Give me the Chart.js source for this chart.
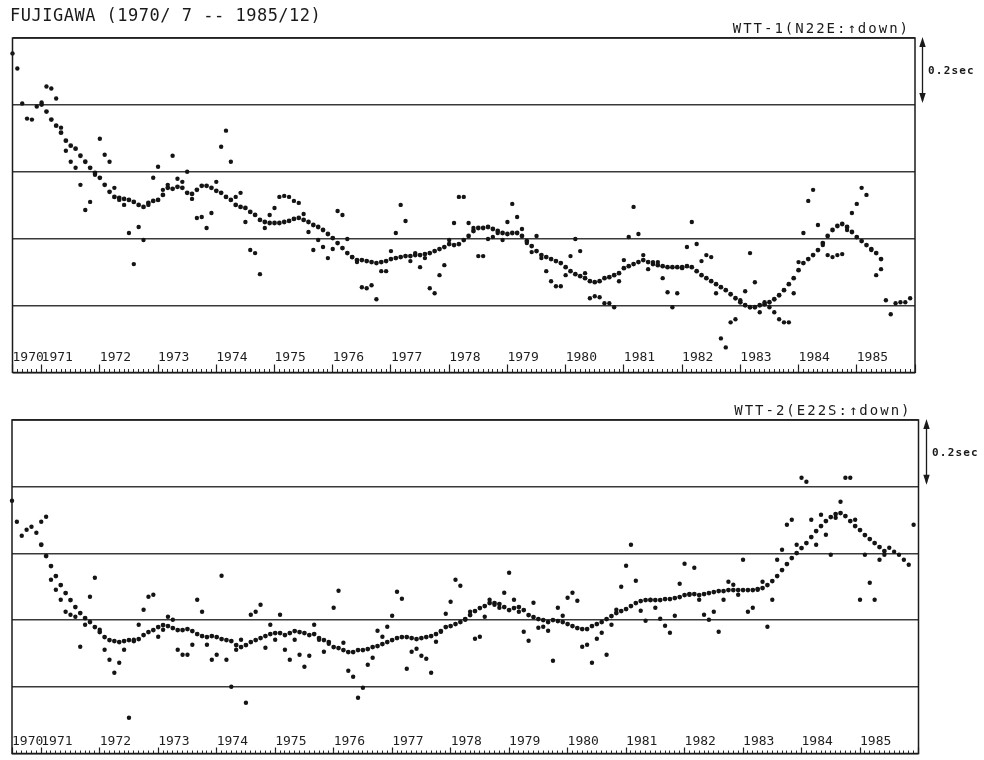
<!DOCTYPE html>
<html>
<head>
<meta charset="utf-8">
<script src="https://cdn.jsdelivr.net/npm/chart.js@4.4.0/dist/chart.umd.min.js"></script>
<style>
  html, body { margin: 0; padding: 0; background: #fff; }
  #wrap { position: relative; width: 984px; height: 760px; overflow: hidden; background: #fff; }
  canvas { position: absolute; left: 0; }
  #c1 { top: 0; }
  #c2 { top: 380px; }
</style>
</head>
<body>
<div id="wrap">
  <canvas id="c1" width="984" height="380"></canvas>
  <canvas id="c2" width="984" height="380"></canvas>
</div>
<script>
// Fujigawa travel-time residuals, monthly, 1970/7 .. 1985/12 (values in ms, 200 ms per division)
const titleText = 'FUJIGAWA (1970/ 7 -- 1985/12)';
const yearLabels = ['1970','1971','1972','1973','1974','1975','1976','1977','1978','1979','1980','1981','1982','1983','1984','1985',''];
const yearTicks = [1970.5,1971,1972,1973,1974,1975,1976,1977,1978,1979,1980,1981,1982,1983,1984,1985,1986];
const firstMonth = 1970.5;     // 1970/7
const smoothLag = 6;           // running mean starts at 1971/1

// WTT-1 (N22E) monthly values
const wtt1Monthly = [
  954, 909, 804, 759, 756, 795,
  807, 855, 849, 819, 732, 663, 630, 612, 561, 486, 510, 591,
  699, 651, 630, 552, 516, 501, 417, 324, 435, 396, 501, 582,
  615, 546, 561, 648, 579, 570, 600, 519, 462, 465, 432, 477,
  570, 675, 723, 630, 525, 537, 450, 366, 357, 294, 432, 471,
  492, 525, 528, 525, 513, 507, 474, 420, 366, 396, 375, 342,
  369, 483, 471, 399, 345, 330, 255, 252, 261, 219, 303, 303,
  363, 417, 501, 453, 333, 357, 315, 342, 252, 237, 291, 321,
  396, 447, 525, 525, 447, 432, 348, 348, 399, 405, 417, 396,
  450, 504, 465, 429, 387, 360, 408, 342, 303, 273, 258, 258,
  291, 348, 399, 363, 297, 222, 228, 225, 207, 207, 195, 273,
  336, 405, 495, 414, 351, 309, 330, 330, 282, 240, 195, 237,
  312, 375, 450, 384, 333, 351, 345, 237, 102, 75, 150, 159,
  216, 243, 357, 270, 180, 210, 195, 180, 159, 150, 150, 237,
  330, 417, 513, 546, 441, 381, 351, 345, 351, 354, 426, 477,
  504, 552, 531, 366, 291, 309, 216, 174, 207, 210, 210, 222
];
// WTT-1 12-month running mean, 1971/1 .. 1985/6
const wtt1Smooth = [
  801, 780, 756, 738, 717, 693, 678, 669, 648, 630, 612, 597,
  582, 561, 540, 525, 522, 519, 516, 510, 501, 495, 507, 513,
  516, 531, 552, 549, 555, 552, 537, 534, 546, 558, 558, 552,
  543, 537, 525, 516, 501, 495, 492, 480, 471, 456, 450, 447,
  447, 447, 450, 453, 459, 462, 456, 450, 441, 435, 426, 414,
  402, 387, 372, 357, 345, 336, 336, 333, 330, 327, 330, 333,
  339, 342, 345, 348, 348, 351, 351, 354, 357, 363, 369, 375,
  384, 381, 384, 396, 408, 423, 432, 432, 435, 429, 423, 417,
  414, 417, 417, 408, 393, 378, 363, 351, 345, 339, 333, 327,
  315, 303, 294, 288, 282, 273, 270, 273, 282, 285, 291, 297,
  312, 318, 324, 330, 336, 330, 324, 321, 318, 315, 315, 315,
  315, 318, 315, 303, 291, 282, 273, 264, 255, 246, 234, 222,
  210, 201, 195, 195, 201, 204, 210, 219, 231, 246, 264, 282,
  306, 327, 339, 351, 366, 387, 408, 426, 438, 444, 435, 420,
  405, 393, 381, 369, 357, 339
];

// WTT-2 (E22S) monthly values
const wtt2Monthly = [
  758, 695, 653, 671, 680, 662,
  695, 710, 521, 491, 461, 425, 416, 410, 320, 386, 470, 527,
  371, 311, 281, 242, 272, 311, 107, 341, 386, 431, 470, 476,
  350, 371, 410, 401, 311, 296, 296, 326, 461, 425, 326, 281,
  296, 533, 281, 200, 311, 341, 152, 416, 425, 446, 317, 386,
  341, 416, 311, 281, 341, 296, 260, 293, 386, 341, 305, 329,
  437, 488, 332, 248, 230, 167, 197, 266, 287, 368, 350, 380,
  413, 485, 464, 254, 305, 314, 293, 284, 242, 335, 365, 419,
  455, 521, 503, 401, 425, 344, 350, 410, 461, 446, 437, 482,
  542, 461, 425, 365, 338, 452, 377, 380, 368, 278, 437, 413,
  467, 482, 458, 320, 326, 272, 344, 362, 296, 386, 431, 500,
  563, 626, 518, 428, 398, 461, 437, 404, 383, 362, 413, 509,
  569, 476, 557, 461, 416, 401, 425, 365, 461, 515, 506, 476,
  581, 425, 437, 491, 515, 380, 461, 581, 611, 686, 701, 626,
  827, 815, 701, 626, 716, 656, 596, 707, 755, 827, 827, 701,
  461, 596, 512, 461, 581, 596, 617, 605, 596, 581, 566, 686
];
// WTT-2 12-month running mean, 1971/1 .. 1985/6
const wtt2Smooth = [
  626, 592, 562, 532, 505, 481, 460, 439, 421, 406, 394, 379,
  364, 349, 340, 337, 334, 337, 340, 337, 343, 355, 364, 370,
  379, 385, 382, 376, 370, 370, 373, 367, 358, 352, 349, 352,
  349, 343, 340, 337, 325, 319, 325, 334, 340, 346, 352, 358,
  361, 361, 355, 361, 367, 364, 361, 355, 358, 346, 340, 334,
  319, 316, 310, 304, 304, 310, 310, 313, 319, 322, 328, 334,
  340, 346, 349, 349, 346, 343, 346, 349, 352, 358, 367, 379,
  382, 388, 394, 403, 415, 427, 436, 442, 451, 451, 448, 439,
  430, 436, 439, 430, 415, 409, 403, 400, 394, 400, 397, 394,
  388, 382, 376, 373, 373, 382, 388, 394, 403, 412, 421, 427,
  433, 442, 451, 457, 460, 460, 460, 460, 463, 463, 466, 469,
  475, 478, 478, 475, 478, 481, 484, 487, 487, 490, 490, 490,
  490, 490, 490, 493, 496, 505, 517, 532, 550, 568, 586, 601,
  616, 631, 649, 667, 682, 697, 709, 718, 721, 712, 697, 682,
  670, 655, 643, 631, 619, 607
];

const monthlyTicks = [];
for (let i = 0; i <= 186; i++) monthlyTicks.push({ value: firstMonth + i / 12 });

function points(values, offset) {
  return values.map((v, i) => ({ x: firstMonth + (i + offset) / 12, y: v }));
}

const ink = '#141414';

// frame, scale arrow and panel captions
const panelDecor = {
  id: 'panelDecor',
  afterDraw(chart, args, opts) {
    const { ctx } = chart;
    const xs = chart.scales.x, ys = chart.scales.y;
    const left = xs.getPixelForValue(xs.min), right = xs.getPixelForValue(xs.max);
    const top = ys.getPixelForValue(ys.max), bottom = ys.getPixelForValue(ys.min);
    ctx.save();
    ctx.strokeStyle = '#1a1a1a';
    ctx.lineWidth = 1.5;
    ctx.strokeRect(left, top, right - left, bottom - top);

    // 0.2 sec scale arrow beside the frame
    const ax = right + opts.arrowGap;
    const y1 = ys.getPixelForValue(1000), y2 = ys.getPixelForValue(800);
    ctx.lineWidth = 1.3;
    ctx.beginPath(); ctx.moveTo(ax, y1 + 4); ctx.lineTo(ax, y2 - 4); ctx.stroke();
    ctx.fillStyle = '#1a1a1a';
    ctx.beginPath(); ctx.moveTo(ax, y1 - 1); ctx.lineTo(ax - 3.2, y1 + 9); ctx.lineTo(ax + 3.2, y1 + 9); ctx.closePath(); ctx.fill();
    ctx.beginPath(); ctx.moveTo(ax, y2 - 2); ctx.lineTo(ax - 3.2, y2 - 12); ctx.lineTo(ax + 3.2, y2 - 12); ctx.closePath(); ctx.fill();

    ctx.fillStyle = '#1a1a1a';
    ctx.textBaseline = 'middle';
    ctx.textAlign = 'left';
    ctx.font = 'bold 11px "DejaVu Sans Mono"';
    ctx.letterSpacing = '1.2px';
    ctx.fillText(opts.scaleText, ax + 5.5, (y1 + y2) / 2);

    ctx.font = '14px "DejaVu Sans Mono"';
    ctx.letterSpacing = '2px';
    ctx.textAlign = 'right';
    ctx.fillText(opts.caption, right - opts.captionInset, top - 8.5);

    if (opts.title) {
      ctx.font = '17px "DejaVu Sans Mono"';
      ctx.letterSpacing = '0.5px';
      ctx.textAlign = 'left';
      ctx.fillText(opts.title, 10, 16.5);
    }
    ctx.restore();
  }
};

function panel(canvasId, monthly, smooth, caption, title, pad, arrowGap, captionInset, axisCfg) {
  return new Chart(document.getElementById(canvasId), {
    type: 'scatter',
    data: {
      datasets: [
        { label: 'monthly', data: points(monthly, 0), pointRadius: 2.2, pointHoverRadius: 2.2,
          pointBackgroundColor: ink, pointBorderWidth: 0, showLine: false, clip: false },
        { label: 'running mean', data: points(smooth, smoothLag), pointRadius: 2.4, pointHoverRadius: 2.4,
          pointBackgroundColor: ink, pointBorderWidth: 0, showLine: false, clip: false }
      ]
    },
    options: {
      responsive: false,
      animation: false,
      devicePixelRatio: 1,
      layout: { padding: pad },
      plugins: {
        legend: { display: false },
        tooltip: { enabled: false },
        panelDecor: { caption, title, scaleText: '0.2sec', arrowGap, captionInset }
      },
      scales: {
        x: {
          type: 'linear', position: 'bottom', min: 1970.5, max: 1986,
          afterBuildTicks: s => { s.ticks = yearTicks.map(v => ({ value: v })); },
          afterFit: s => { s.height = 0; },
          border: { display: false },
          grid: { drawOnChartArea: false, drawTicks: true, tickLength: axisCfg.major, tickColor: '#1e1e1e', tickWidth: 1.2 },
          ticks: {
            autoSkip: false, maxRotation: 0, minRotation: 0, align: 'start', mirror: true,
            padding: axisCfg.labelGap,
            color: '#1e1e1e', font: { family: 'DejaVu Sans Mono', size: 13 },
            callback: (v, i) => yearLabels[i]
          }
        },
        xm: {
          type: 'linear', position: 'bottom', min: 1970.5, max: 1986,
          afterBuildTicks: s => { s.ticks = monthlyTicks.slice(); },
          afterFit: s => { s.height = 0; },
          border: { display: false },
          grid: { drawOnChartArea: false, drawTicks: true, tickLength: axisCfg.minor, tickColor: '#2a2a2a', tickWidth: 1 },
          ticks: { display: false }
        },
        y: {
          type: 'linear', min: 0, max: 1000,
          afterBuildTicks: s => { s.ticks = [0, 200, 400, 600, 800, 1000].map(v => ({ value: v })); },
          afterFit: s => { s.width = 0; },
          border: { display: false },
          grid: { color: '#3a3a3a', lineWidth: 1.4, drawTicks: false },
          ticks: { display: false }
        }
      }
    },
    plugins: [panelDecor]
  });
}

panel('c1', wtt1Monthly, wtt1Smooth, 'WTT-1(N22E:\u2191down)', titleText,
      { left: 12.5, right: 69, top: 38, bottom: 7.5 }, 7.5, 5,
      { major: -8, minor: -3.5, labelGap: 7.5 });
panel('c2', wtt2Monthly, wtt2Smooth, 'WTT-2(E22S:\u2191down)', null,
      { left: 12, right: 65.5, top: 40, bottom: 6.5 }, 8, 7,
      { major: -6, minor: -3, labelGap: 4 });
</script>
</body>
</html>
